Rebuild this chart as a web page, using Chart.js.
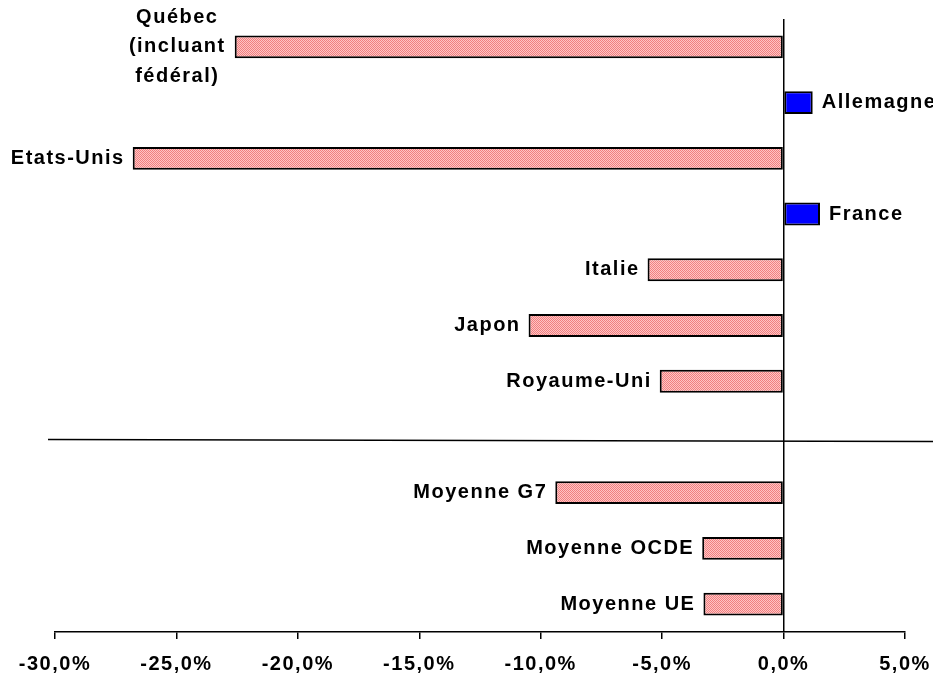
<!DOCTYPE html>
<html>
<head>
<meta charset="utf-8">
<script src="https://cdn.jsdelivr.net/npm/chart.js@4"></script>
<style>
  body { margin: 0; background: #fff; }
</style>
</head>
<body>
<canvas id="chart" width="933" height="676"></canvas>
<script>
// categories (empty slot = separator row)
const categories = [
    ['Québec', '(incluant', 'fédéral)'],
    'Allemagne',
    'Etats-Unis',
    'France',
    'Italie',
    'Japon',
    'Royaume-Uni',
    '',
    'Moyenne G7',
    'Moyenne OCDE',
    'Moyenne UE'
];
// variation in %
const values = [-22.6, 1.2, -26.8, 1.5, -5.6, -10.5, -5.1, null, -9.4, -3.35, -3.3];
const xTicks = [-30, -25, -20, -15, -10, -5, 0, 5];
const separatorIndex = 7;

const FONT = 'bold 20px "Liberation Sans", Arial, sans-serif';

// dotted pink fill
function makePattern() {
    const p = document.createElement('canvas');
    p.width = 2;
    p.height = 2;
    const g = p.getContext('2d');
    g.fillStyle = '#f08080';
    g.fillRect(0, 0, 2, 2);
    g.fillStyle = '#ffc4c4';
    g.fillRect(1, 0, 1, 1);
    g.fillRect(0, 1, 1, 1);
    return g.createPattern(p, 'repeat');
}
const pinkPattern = makePattern();

const spacingPlugin = {
    id: 'spacing',
    beforeDraw(chart) {
        chart.ctx.letterSpacing = '1.5px';
    }
};

const labelPlugin = {
    id: 'barLabels',
    afterDatasetsDraw(chart) {
        const ctx = chart.ctx;
        const meta = chart.getDatasetMeta(0);
        ctx.save();
        ctx.letterSpacing = '1.5px';
        ctx.font = FONT;
        ctx.fillStyle = '#000';
        ctx.textBaseline = 'middle';
        meta.data.forEach((bar, i) => {
            const v = values[i];
            if (v === null) return;
            const lab = categories[i];
            if (Array.isArray(lab)) {
                const w = Math.max(...lab.map(s => ctx.measureText(s).width));
                const cx = bar.x - 9 - w / 2;
                ctx.textAlign = 'center';
                lab.forEach((s, k) => {
                    ctx.fillText(s, cx, bar.y + (k - 1) * 29.5);
                });
            } else if (v < 0) {
                ctx.textAlign = 'right';
                ctx.fillText(lab, bar.x - 8, bar.y);
            } else {
                ctx.textAlign = 'left';
                ctx.fillText(lab, bar.x + 9, bar.y);
            }
        });
        // separator line between countries and averages
        const ys = chart.scales.y.getPixelForValue(separatorIndex) + 3;
        ctx.strokeStyle = '#000';
        ctx.lineWidth = 1.5;
        ctx.beginPath();
        ctx.moveTo(chart.chartArea.left - 7, ys - 0.5);
        ctx.lineTo(chart.width, ys + 1.5);
        ctx.stroke();
        ctx.restore();
    }
};

new Chart(document.getElementById('chart'), {
    type: 'bar',
    data: {
        labels: categories,
        datasets: [{
            data: values,
            backgroundColor: values.map(v => v < 0 ? pinkPattern : '#0000ff'),
            borderColor: '#000',
            borderWidth: 2,
            borderSkipped: false,
            barPercentage: 0.41,
            categoryPercentage: 1
        }]
    },
    options: {
        indexAxis: 'y',
        responsive: false,
        animation: false,
        layout: {
            padding: { left: 55, right: 28, top: 19, bottom: 0 }
        },
        plugins: {
            legend: { display: false },
            tooltip: { enabled: false }
        },
        scales: {
            x: {
                min: -30,
                max: 5,
                afterBuildTicks: axis => {
                    axis.ticks = xTicks.map(v => ({ value: v }));
                },
                afterFit: axis => {
                    axis.height = 44;
                    axis.paddingLeft = 0;
                    axis.paddingRight = 0;
                },
                ticks: {
                    color: '#000',
                    padding: 13,
                    maxRotation: 0,
                    font: { family: '"Liberation Sans", Arial, sans-serif', size: 20, weight: 'bold' },
                    callback: v => v.toFixed(1).replace('.', ',') + '%'
                },
                grid: {
                    color: c => (c.tick && c.tick.value === 0) ? '#000' : 'rgba(0,0,0,0)',
                    lineWidth: 1.5,
                    tickColor: '#000',
                    tickLength: 7
                },
                border: { display: true, color: '#000', width: 1.5 }
            },
            y: {
                display: false,
                grid: { display: false }
            }
        }
    },
    plugins: [spacingPlugin, labelPlugin]
});
</script>
</body>
</html>
